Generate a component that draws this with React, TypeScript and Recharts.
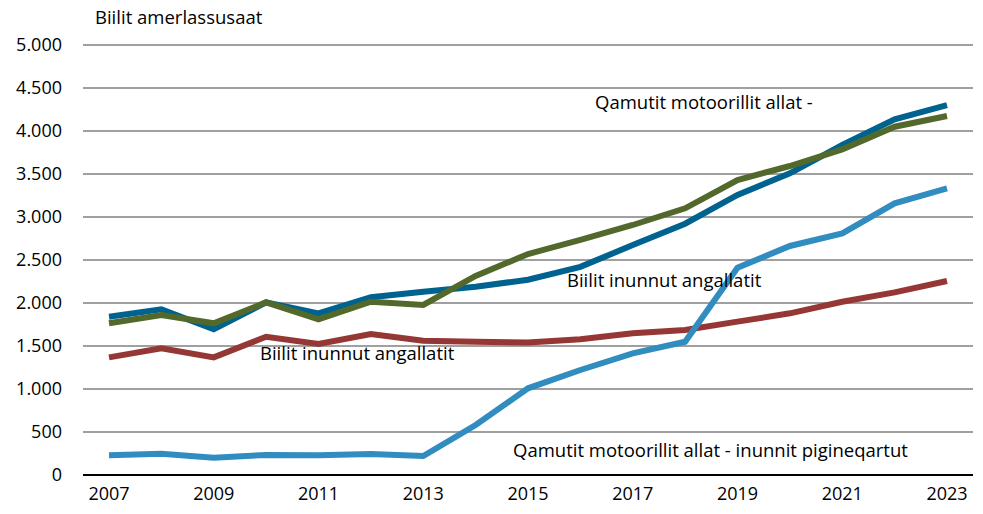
import { LineChart, Line, XAxis, YAxis, CartesianGrid } from 'recharts';

const years = ['2007', '2008', '2009', '2010', '2011', '2012', '2013', '2014', '2015', '2016', '2017', '2018', '2019', '2020', '2021', '2022', '2023'];

// Biilit inunnut angallatit (to series)
const personbilerA = [1841, 1926, 1694, 2008, 1880, 2066, 2132, 2190, 2270, 2420, 2674, 2922, 3256, 3508, 3837, 4136, 4302];
const personbilerB = [1368, 1473, 1368, 1608, 1523, 1640, 1562, 1548, 1540, 1578, 1647, 1686, 1783, 1880, 2015, 2124, 2256];
// Qamutit motoorillit allat
const andreA = [1764, 1860, 1764, 2008, 1810, 2015, 1977, 2314, 2570, 2733, 2907, 3101, 3430, 3593, 3787, 4050, 4174];
const andreB = [229, 248, 202, 233, 229, 244, 221, 581, 1008, 1221, 1415, 1550, 2410, 2663, 2810, 3159, 3334];

const yTicks = [0, 500, 1000, 1500, 2000, 2500, 3000, 3500, 4000, 4500, 5000];

const data = years.map((year, i) => ({
  year,
  personbilerA: personbilerA[i],
  personbilerB: personbilerB[i],
  andreA: andreA[i],
  andreB: andreB[i],
}));

const font = '"Open Sans", sans-serif';

const fmt = (v: number) => String(v).replace(/\B(?=(\d{3})+(?!\d))/g, '.');

const labelStyle = (left: number, top: number): React.CSSProperties => ({
  position: 'absolute',
  left,
  top,
  fontFamily: font,
  fontSize: 18.5,
  lineHeight: '20px',
  color: '#000',
  whiteSpace: 'nowrap',
});

export default function App() {
  return (
    <div style={{ position: 'absolute', left: 0, top: 0, width: 983, height: 514, background: '#fff' }}>
      <LineChart width={983} height={514} data={data} margin={{ top: 45, right: 10, left: 0, bottom: 0 }}>
        <CartesianGrid vertical={false} stroke="#a0a0a0" strokeWidth={2} />
        <XAxis
          dataKey="year"
          interval={1}
          padding={{ left: 26, right: 26 }}
          height={39}
          tickSize={0}
          tickMargin={12}
          axisLine={{ stroke: '#000', strokeWidth: 2 }}
          tickLine={false}
          tick={{ fill: '#000', fontSize: 18, fontFamily: font }}
        />
        <YAxis
          domain={[0, 5000]}
          ticks={yTicks}
          width={83}
          tickSize={0}
          tickMargin={21}
          axisLine={false}
          tickLine={false}
          tickFormatter={fmt}
          tick={{ fill: '#000', fontSize: 18, fontFamily: font }}
        />
        <Line dataKey="personbilerB" stroke="#953735" strokeWidth={6} dot={false} isAnimationActive={false} />
        <Line dataKey="personbilerA" stroke="#00628f" strokeWidth={6} dot={false} isAnimationActive={false} />
        <Line dataKey="andreA" stroke="#53692c" strokeWidth={6} dot={false} isAnimationActive={false} />
        <Line dataKey="andreB" stroke="#318cc0" strokeWidth={6} dot={false} isAnimationActive={false} />
      </LineChart>
      <div style={labelStyle(95, 7)}>Biilit amerlassusaat</div>
      <div style={labelStyle(595, 92)}>Qamutit motoorillit allat -</div>
      <div style={labelStyle(567, 270)}>Biilit inunnut angallatit</div>
      <div style={labelStyle(260, 343)}>Biilit inunnut angallatit</div>
      <div style={labelStyle(513, 440)}>Qamutit motoorillit allat - inunnit pigineqartut</div>
    </div>
  );
}
